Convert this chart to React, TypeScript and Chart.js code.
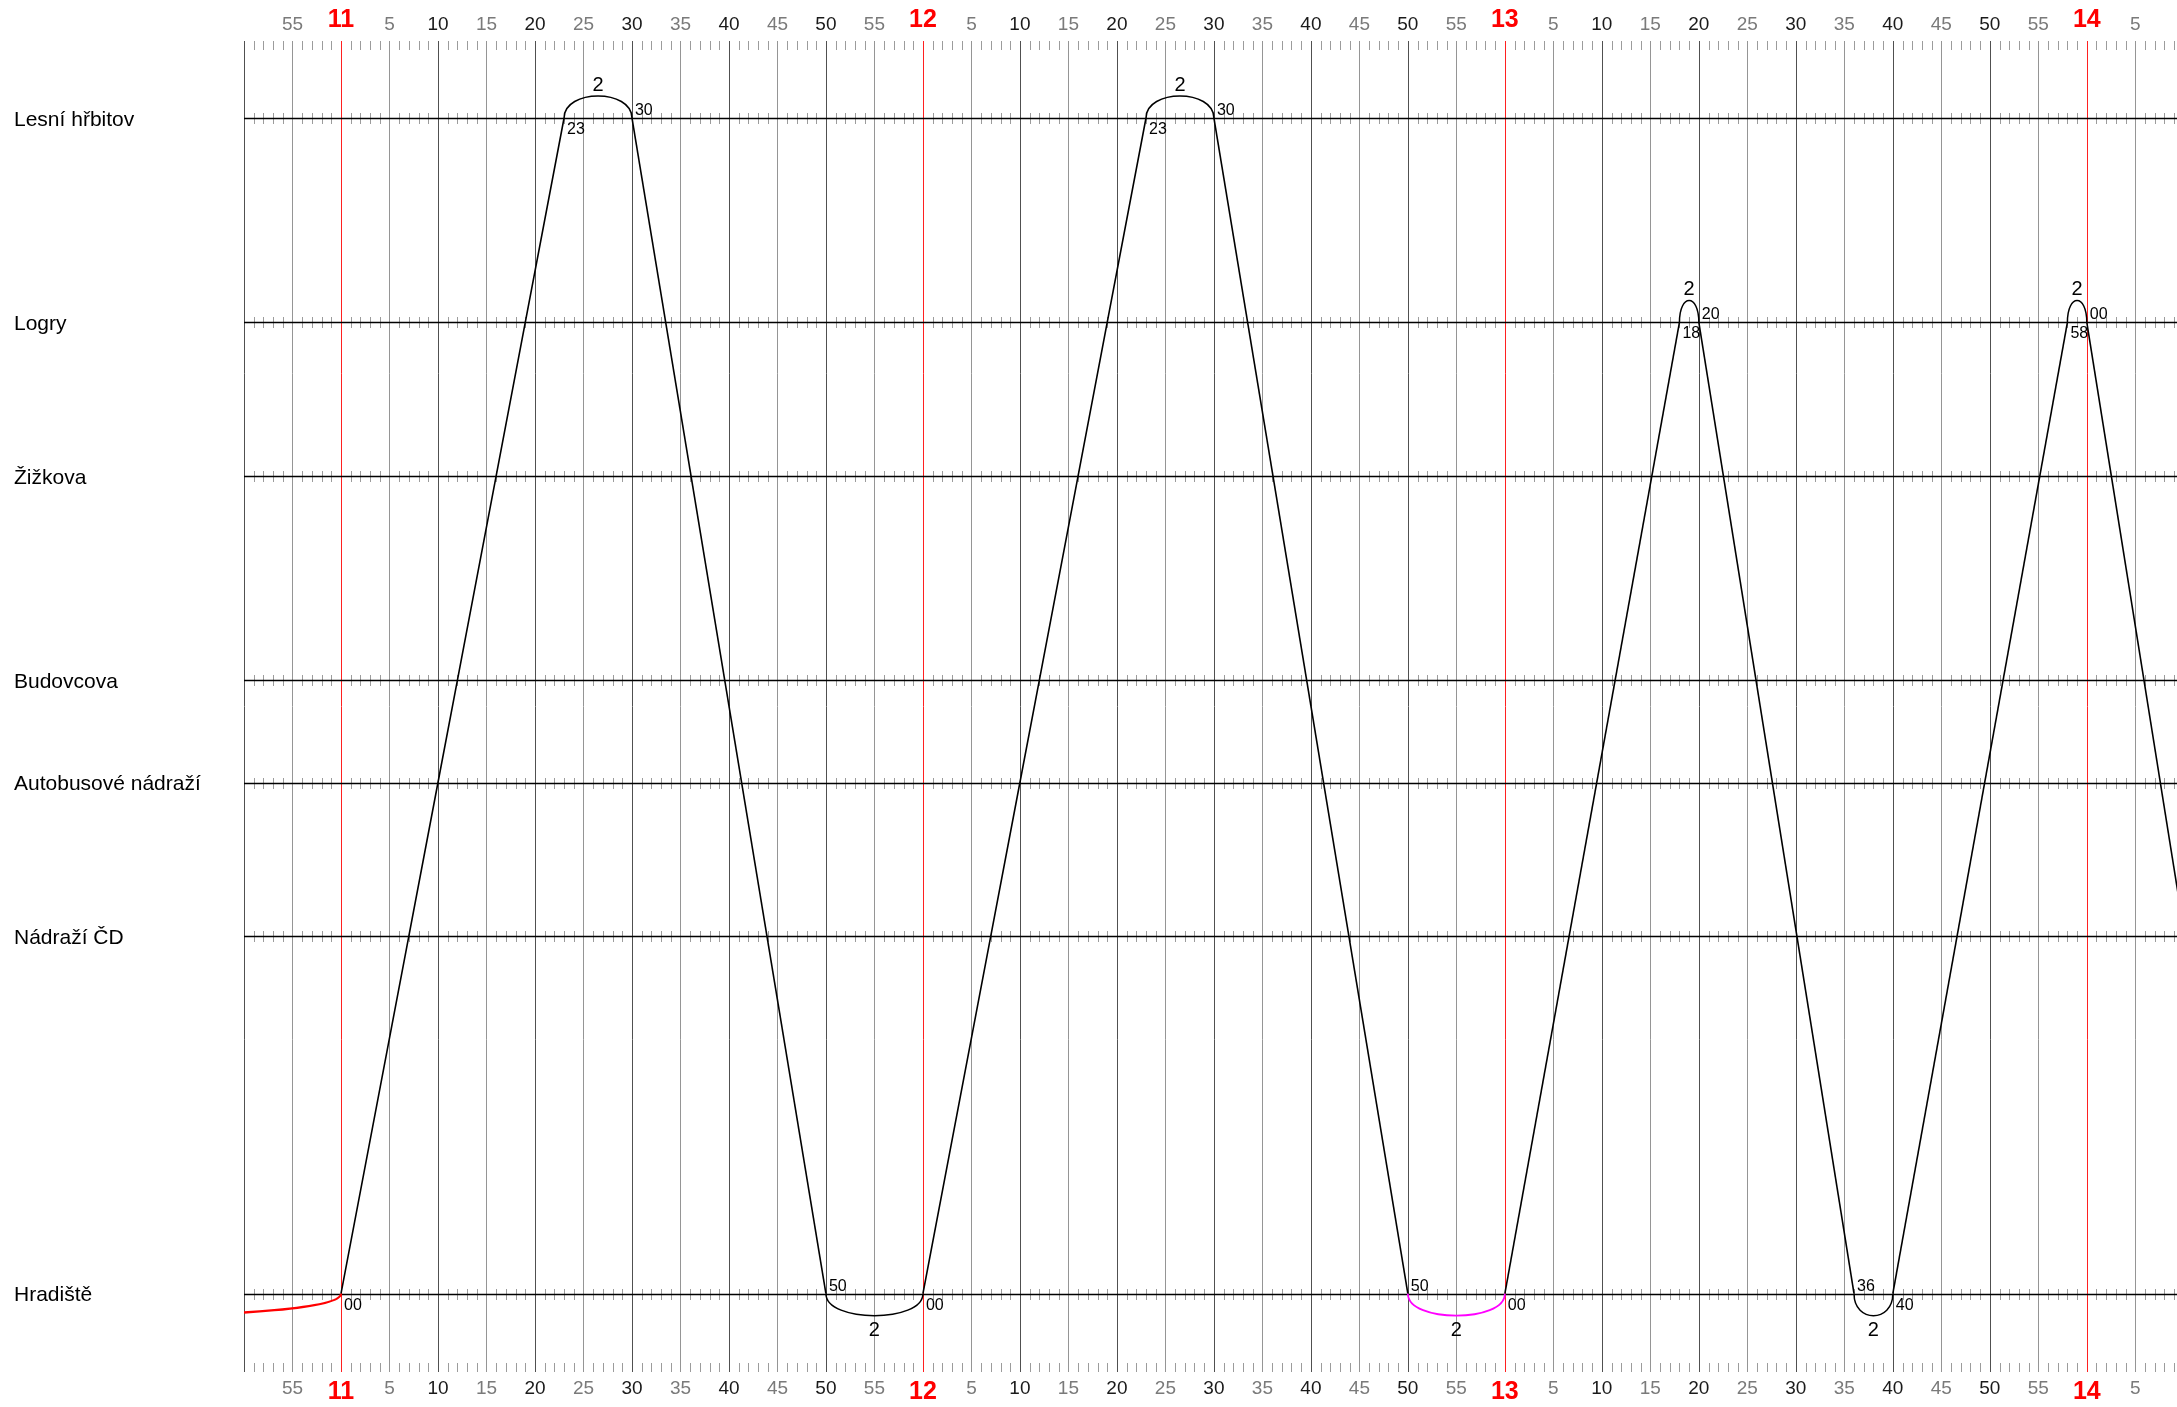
import React, { useEffect, useRef } from 'react';
import { Chart, registerables } from 'chart.js';

Chart.register(...registerables);

// ---------- data ----------
const STATIONS = ['Lesní hřbitov', 'Logry', 'Žižkova', 'Budovcova', 'Autobusové nádraží', 'Nádraží ČD', 'Hradiště'];
// running minutes from Hradiště (vertical position of each stop)
const STATION_POS = [23, 19, 16, 12, 10, 7, 0];

const X_START = '10:50';
const X_END_MINUTES = 849.3; // 14:09.3 (cut at the picture edge)

const UP_STOPS = ['Hradiště', 'Nádraží ČD', 'Autobusové nádraží', 'Budovcova', 'Žižkova', 'Logry', 'Lesní hřbitov'];
const TRIP1_TIMES = ['11:00', '11:07', '11:10', '11:12', '11:16', '11:19', '11:23'];
const DOWN_FULL_STOPS = ['Lesní hřbitov', 'Hradiště'];
const TRIP2_TIMES = ['11:30', '11:50'];
const TRIP3_TIMES = ['12:00', '12:07', '12:10', '12:12', '12:16', '12:19', '12:23'];
const TRIP4_TIMES = ['12:30', '12:50'];
const UP_SHORT_STOPS = ['Hradiště', 'Logry'];
const TRIP5_TIMES = ['13:00', '13:18'];
const DOWN_SHORT_STOPS = ['Logry', 'Hradiště'];
const TRIP6_TIMES = ['13:20', '13:36'];
const TRIP7_TIMES = ['13:40', '13:58'];
const TRIP8_TIMES = ['14:00', '14:16'];

// turnarounds (layovers) drawn as arcs
const TURN_START = ['10:16', '11:23', '11:50', '12:23', '12:50', '13:18', '13:36', '13:58'];
const TURN_END = ['11:00', '11:30', '12:00', '12:30', '13:00', '13:20', '13:40', '14:00'];
const TURN_STATION = ['Hradiště', 'Lesní hřbitov', 'Hradiště', 'Lesní hřbitov', 'Hradiště', 'Logry', 'Hradiště', 'Logry'];
const TURN_LABEL = ['2', '2', '2', '2', '2', '2', '2', '2'];
const TURN_KIND = ['depot', 'normal', 'normal', 'normal', 'special', 'normal', 'normal', 'normal'];

// ---------- styles ----------
const KIND_COLOR: Record<string, string> = { depot: '#ff0000', normal: '#000000', special: '#ff00ff' };
const KIND_WIDTH: Record<string, number> = { depot: 2.4, normal: 1.5, special: 1.8 };
const FONT = '"Liberation Sans", Arial, Helvetica, sans-serif';

const toMin = (s: string) => {
  const [h, m] = s.split(':').map(Number);
  return h * 60 + m;
};
const posOf = (name: string) => STATION_POS[STATIONS.indexOf(name)];

const buildTrip = (stops: string[], times: string[]) =>
  times.map((t, i) => ({ x: toMin(t), y: posOf(stops[i]) }));

const TRIPS = [
  buildTrip(UP_STOPS, TRIP1_TIMES),
  buildTrip(DOWN_FULL_STOPS, TRIP2_TIMES),
  buildTrip(UP_STOPS, TRIP3_TIMES),
  buildTrip(DOWN_FULL_STOPS, TRIP4_TIMES),
  buildTrip(UP_SHORT_STOPS, TRIP5_TIMES),
  buildTrip(DOWN_SHORT_STOPS, TRIP6_TIMES),
  buildTrip(UP_SHORT_STOPS, TRIP7_TIMES),
  buildTrip(DOWN_SHORT_STOPS, TRIP8_TIMES),
];

const BULGE = 29.3; // bezier handle length (px) -> 22px visible bulge

const gridPlugin = {
  id: 'ttGrid',
  beforeDatasetsDraw(chart: any) {
    const { ctx, chartArea: a, scales } = chart;
    const x = scales.x;
    const y = scales.y;
    ctx.save();
    // minute ticks (top row, bottom row, station lines)
    ctx.strokeStyle = '#9c9c9c';
    ctx.lineWidth = 1;
    ctx.beginPath();
    for (let t = Math.ceil(x.min); t <= x.max; t++) {
      if (t % 5 === 0) continue;
      const px = Math.round(x.getPixelForValue(t)) + 0.5;
      ctx.moveTo(px, a.top);
      ctx.lineTo(px, a.top + 9);
      ctx.moveTo(px, a.bottom - 9);
      ctx.lineTo(px, a.bottom);
      STATION_POS.forEach((p) => {
        const py = Math.round(y.getPixelForValue(p));
        ctx.moveTo(px, py - 5);
        ctx.lineTo(px, py + 6);
      });
    }
    ctx.stroke();
    // vertical 5-minute lines
    for (let t = Math.ceil(x.min / 5) * 5; t <= x.max; t += 5) {
      const px = Math.round(x.getPixelForValue(t)) + 0.5;
      if (t % 60 === 0) ctx.strokeStyle = '#ff2020';
      else if (t % 10 === 0) ctx.strokeStyle = '#505050';
      else ctx.strokeStyle = '#959595';
      ctx.lineWidth = 1;
      ctx.beginPath();
      ctx.moveTo(px, a.top);
      ctx.lineTo(px, a.bottom);
      ctx.stroke();
    }
    // station lines
    ctx.strokeStyle = '#000';
    ctx.lineWidth = 1.3;
    STATION_POS.forEach((p) => {
      const py = Math.round(y.getPixelForValue(p)) + 0.5;
      ctx.beginPath();
      ctx.moveTo(a.left, py);
      ctx.lineTo(a.right, py);
      ctx.stroke();
    });
    // station names
    ctx.fillStyle = '#000';
    ctx.font = `21px ${FONT}`;
    ctx.textAlign = 'left';
    ctx.textBaseline = 'middle';
    STATIONS.forEach((s, i) => {
      ctx.fillText(s, 14, y.getPixelForValue(STATION_POS[i]) + 2);
    });
    // time axis labels top & bottom
    ctx.textAlign = 'center';
    ctx.textBaseline = 'middle';
    for (let t = Math.ceil(x.min / 5) * 5 + 5; t <= x.max; t += 5) {
      const px = x.getPixelForValue(t);
      const m = t % 60;
      if (m === 0) {
        ctx.font = `bold 25px ${FONT}`;
        ctx.fillStyle = '#ff0000';
        const lbl = String(t / 60);
        ctx.fillText(lbl, px, 20);
        ctx.fillText(lbl, px, 1392);
      } else {
        ctx.font = `19px ${FONT}`;
        ctx.fillStyle = m % 10 === 0 ? '#1a1a1a' : '#7a7a7a';
        ctx.fillText(String(m), px, 25);
        ctx.fillText(String(m), px, 1389);
      }
    }
    ctx.restore();
  },
  afterDatasetsDraw(chart: any) {
    const { ctx, chartArea: a, scales } = chart;
    const x = scales.x;
    const y = scales.y;
    const two = (t: number) => String(t % 60).padStart(2, '0');
    ctx.save();
    ctx.beginPath();
    ctx.rect(a.left, a.top, a.right - a.left, a.bottom - a.top);
    ctx.clip();
    TURN_START.forEach((s, i) => {
      const t0 = toMin(s);
      const t1 = toMin(TURN_END[i]);
      const st = TURN_STATION[i];
      const p = posOf(st);
      const x0 = x.getPixelForValue(t0);
      const x1 = x.getPixelForValue(t1);
      const y0 = y.getPixelForValue(p);
      const dir = p === 0 ? 1 : -1; // below the bottom terminus, above the top ones
      const kind = TURN_KIND[i];
      ctx.strokeStyle = KIND_COLOR[kind];
      ctx.lineWidth = KIND_WIDTH[kind];
      ctx.beginPath();
      ctx.moveTo(x0, y0);
      ctx.bezierCurveTo(x0, y0 + dir * BULGE, x1, y0 + dir * BULGE, x1, y0);
      ctx.stroke();

      ctx.fillStyle = '#000';
      ctx.textAlign = 'center';
      ctx.textBaseline = 'alphabetic';
      ctx.font = `20px ${FONT}`;
      const xm = (x0 + x1) / 2;
      if (xm > a.left) {
        if (dir < 0) ctx.fillText(TURN_LABEL[i], xm, y0 - 22 - 5);
        else ctx.fillText(TURN_LABEL[i], xm, y0 + 22 + 20);
      }
      ctx.textAlign = 'left';
      ctx.font = `16px ${FONT}`;
      if (x0 >= a.left) {
        // arrival
        ctx.fillText(two(t0), x0 + 3, dir < 0 ? y0 + 16 : y0 - 3);
      }
      if (x1 >= a.left) {
        // departure
        ctx.fillText(two(t1), x1 + 3, dir < 0 ? y0 - 3 : y0 + 16);
      }
    });
    ctx.restore();
  },
};

export default function App() {
  const ref = useRef<HTMLCanvasElement | null>(null);
  useEffect(() => {
    document.body.style.margin = '0';
    const canvas = ref.current;
    if (!canvas) return;
    const chart = new Chart(canvas, {
      type: 'scatter',
      data: {
        datasets: TRIPS.map((pts) => ({
          data: pts,
          showLine: true,
          borderColor: '#000',
          borderWidth: 1.6,
          pointRadius: 0,
          tension: 0,
        })),
      },
      options: {
        responsive: false,
        animation: false,
        devicePixelRatio: 1,
        events: [],
        layout: { padding: { left: 244, right: 0, top: 41, bottom: 35 } },
        plugins: { legend: { display: false }, tooltip: { enabled: false } },
        scales: {
          x: { type: 'linear', min: toMin(X_START), max: X_END_MINUTES, display: false },
          y: { type: 'linear', min: -1.532, max: 24.506, display: false },
        },
      },
      plugins: [gridPlugin],
    });
    return () => chart.destroy();
  }, []);
  return (
    <div style={{ width: 2177, height: 1407, background: '#fff' }}>
      <canvas ref={ref} width={2177} height={1407} style={{ display: 'block' }} />
    </div>
  );
}
